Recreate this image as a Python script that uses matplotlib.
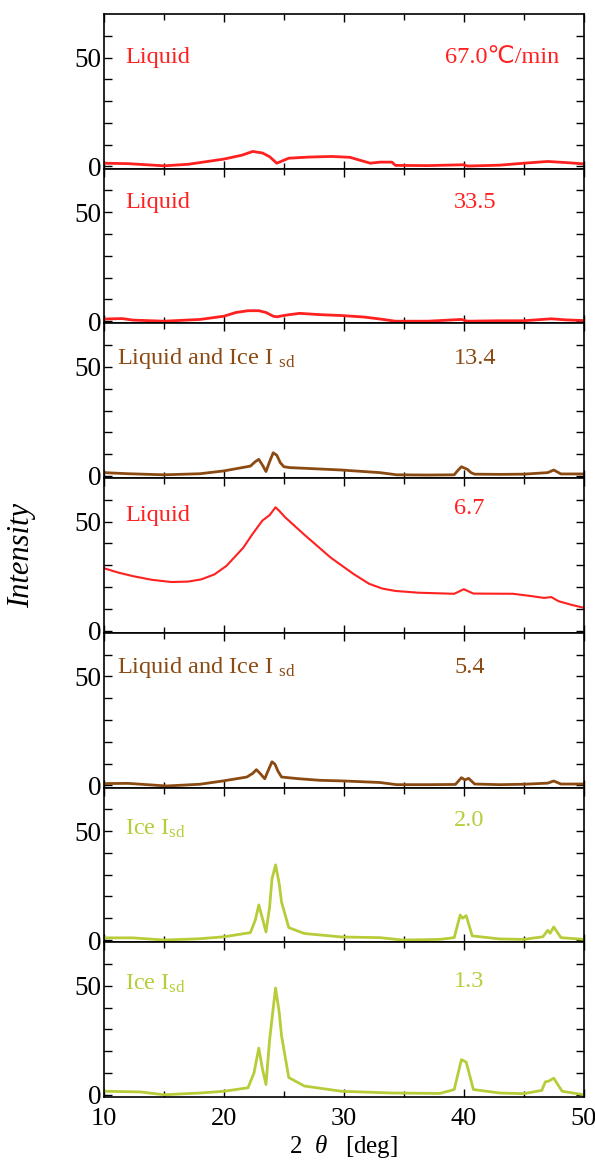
import numpy as np
import matplotlib
matplotlib.use("Agg")
import matplotlib.pyplot as plt

plt.rcParams['font.family'] = ['Liberation Serif', 'DejaVu Sans']
plt.rcParams['mathtext.fontset'] = 'custom'
plt.rcParams['mathtext.rm'] = 'Liberation Serif'
plt.rcParams['mathtext.it'] = 'Liberation Serif:italic'

RED = '#ff2020'
BROWN = '#8b4a12'
OLIVE = '#b8cc3a'

# cooling rate 67.0 C/min
theta_670 = [10, 12, 13.5, 15, 17, 20, 21.5, 22.4, 23.2, 23.8, 24.4, 25.4, 27, 29, 30.5,
             32.2, 33, 34, 34.3, 37, 40, 40.3, 43, 45, 47, 48.5, 50]
int_670 = [1.5, 1.3, 0.8, 0.3, 1.0, 3.4, 5.2, 6.9, 6.2, 4.5, 1.5, 3.8, 4.3, 4.6, 4.2,
           1.5, 2.0, 2.0, 0.5, 0.4, 0.8, 0.2, 0.6, 1.5, 2.3, 1.8, 1.2]

# 33.5
theta_335 = [10, 11.5, 12.4, 15, 18, 20, 21, 22, 22.9, 23.5, 24.1, 24.4, 25.2, 26.3, 28,
             29.8, 31.7, 33, 34.3, 37, 39.8, 40.3, 43, 45, 47.3, 48.5, 50]
int_335 = [1.0, 1.2, 0.5, 0.0, 0.8, 2.3, 4.0, 4.8, 4.8, 4.0, 2.3, 2.0, 2.8, 3.6, 3.0,
           2.6, 1.9, 1.0, 0.0, 0.0, 0.8, 0.0, 0.2, 0.2, 1.1, 0.6, 0.3]

# 13.4
theta_134 = [10, 12, 15, 18, 20, 21.5, 22.2, 22.6, 22.9, 23.2, 23.5, 23.8, 24.1, 24.4,
             24.7, 25.0, 25.5, 26.7, 29.8, 33, 34.4, 37, 39.2, 39.5, 39.8, 40.3, 40.6,
             40.9, 43, 45, 47, 47.5, 48.1, 50]
int_134 = [1.5, 1.0, 0.5, 1.0, 2.3, 3.8, 4.5, 6.5, 7.6, 5.0, 2.0, 6.5, 10.6, 9.5,
           6.0, 4.2, 3.8, 3.5, 2.7, 1.5, 0.5, 0.4, 0.5, 2.5, 4.2, 3.0, 1.5,
           0.8, 0.7, 0.8, 1.5, 2.7, 0.9, 0.9]

# 6.7
theta_67 = [10, 11.2, 12.4, 14, 15.6, 17, 18.1, 19.2, 20.2, 21.6, 22.4, 23.2, 23.8, 24.3,
            24.6, 25.1, 26.7, 28.9, 30.8, 32.1, 33.2, 34.3, 36.2, 39.2, 40.0, 40.8, 44.1,
            45.7, 46.7, 47.3, 47.9, 49, 50]
int_67 = [28.6, 26.6, 25.0, 23.3, 22.3, 22.5, 23.5, 25.8, 29.7, 38.0, 44.5, 50.5, 53.0,
          56.6, 55.0, 52.0, 44.0, 33.5, 26.0, 21.5, 19.3, 18.2, 17.4, 16.9, 19.0, 17.0,
          16.9, 15.8, 15.0, 15.4, 13.5, 11.8, 10.5]

# 5.4
theta_54 = [10, 12, 15.2, 18, 19.9, 21.9, 22.4, 22.7, 23.0, 23.4, 23.7, 24.0, 24.25, 24.5,
            24.8, 26.3, 28, 30, 33, 34.4, 37, 39.3, 39.8, 40.1, 40.4, 40.9, 43, 45, 47,
            47.5, 48.1, 50]
int_54 = [0.8, 0.9, -0.3, 0.5, 2.0, 3.8, 5.5, 7.2, 5.5, 3.0, 7.0, 10.8, 9.7, 6.5,
          3.8, 3.0, 2.3, 2.0, 1.3, 0.3, 0.3, 0.4, 3.5, 2.5, 3.2, 0.6, 0.3, 0.5, 1.0,
          2.0, 0.6, 0.6]

# 2.0
theta_20 = [10, 12.4, 15, 18, 20, 22.2, 22.6, 22.9, 23.2, 23.5, 23.8, 24.0, 24.3, 24.6,
            24.8, 25.4, 26.7, 29.8, 33, 34.9, 38, 39.2, 39.7, 39.9, 40.2, 40.7, 43, 45,
            46.6, 47.0, 47.2, 47.5, 48.1, 50]
int_20 = [1.0, 1.0, 0.0, 0.6, 1.5, 3.4, 9.0, 16.1, 10.0, 3.7, 15.0, 28.0, 34.5, 26.0,
          17.4, 5.7, 3.0, 1.4, 1.1, 0.0, 0.3, 1.1, 11.5, 10.0, 11.2, 1.9, 0.5, 0.3,
          1.5, 4.5, 3.1, 6.0, 1.1, 0.3]

# 1.3
theta_13 = [10, 13, 15, 18, 20, 22, 22.5, 22.9, 23.2, 23.5, 23.8, 24.0, 24.3, 24.6, 24.8,
            25.4, 26.7, 29.8, 34, 38, 39.2, 39.8, 40.2, 40.8, 43, 45, 46.5, 46.8, 47.1,
            47.5, 48.2, 50]
int_13 = [1.6, 1.3, 0.0, 0.8, 1.6, 3.2, 10.0, 21.4, 12.0, 4.7, 25.0, 34.8, 49.0, 38.0, 27.0,
          7.9, 4.0, 1.6, 0.8, 0.6, 2.4, 16.1, 15.0, 2.4, 0.8, 0.5, 2.0, 5.9, 6.3,
          7.6, 1.6, 0.0]

phases = ['Liquid', 'Liquid', 'Liquid and Ice I $_{\\rm sd}$', 'Liquid',
          'Liquid and Ice I $_{\\rm sd}$', 'Ice I$_{\\rm sd}$', 'Ice I$_{\\rm sd}$']
rates = ['67.0\u2103/min', '33.5', '13.4', '6.7', '5.4', '2.0', '1.3']
colors = [RED, RED, BROWN, RED, BROWN, OLIVE, OLIVE]
thetas = [theta_670, theta_335, theta_134, theta_67, theta_54, theta_20, theta_13]
intens = [int_670, int_335, int_134, int_67, int_54, int_20, int_13]

# label heights inside each panel (data units)
phase_y = [50, 54.5, 54, 53, 54, 51, 51]
rate_y = [50, 54.5, 54, 56, 54, 55, 52]

fig, axes = plt.subplots(7, 1, figsize=(5.95, 11.62), dpi=100, sharex=True)
fig.subplots_adjust(left=0.175, right=0.981, top=0.988, bottom=0.056, hspace=0)

for i, ax in enumerate(axes):
    ax.plot(thetas[i], intens[i], color=colors[i], lw=1.5 if i == 3 else 2.0)
    ax.set_xlim(10, 50)
    ax.set_ylim(-1, 70)
    ax.set_yticks([0, 10, 20, 30, 40, 50, 60])
    ax.set_yticklabels(['0', '', '', '', '', '50', ''])
    ax.set_xticks([10, 20, 30, 40, 50])
    ax.set_xticks([15, 25, 35, 45], minor=True)
    ax.tick_params(which='both', direction='in', top=True, right=True,
                   labelsize=19.5, width=1, pad=2)
    ax.tick_params(which='major', length=6)
    ax.tick_params(which='minor', length=4)
    for s in ax.spines.values():
        s.set_linewidth(1.2)
    ax.text(11.1 if 'and' in phases[i] else 11.75, phase_y[i], phases[i],
            color=colors[i], fontsize=17.5, va='center', ha='left')
    ax.text(38.4 if i == 0 else 39.2, rate_y[i], rates[i], color=colors[i],
            fontsize=17.5, va='center', ha='left')

axes[-1].set_xticklabels(['10', '20', '30', '40', '50'])
axes[-1].tick_params(axis='x', pad=8, labelsize=19)
axes[-1].set_xlabel('2  $\\theta$   [deg]', fontsize=18, labelpad=2)
fig.text(0.037, 0.522, 'Intensity', rotation=90, fontsize=22, style='italic',
         ha='center', va='center')

fig.savefig('out.png', dpi=100)
